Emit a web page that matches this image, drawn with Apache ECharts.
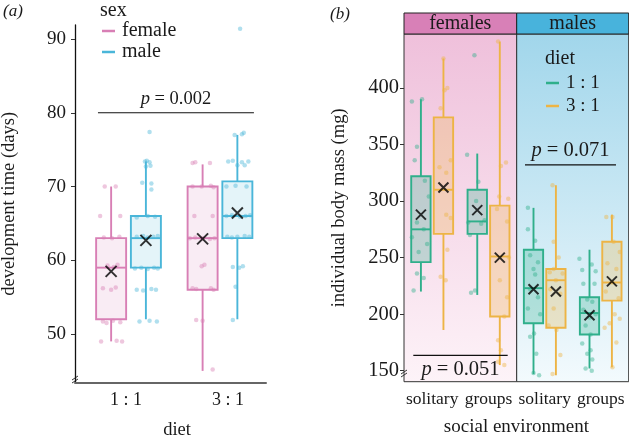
<!DOCTYPE html>
<html><head><meta charset="utf-8">
<script src="https://cdn.jsdelivr.net/npm/echarts@6/dist/echarts.min.js"></script>
<style>html,body{margin:0;padding:0;background:#fff}#c{width:629px;height:440px}</style>
</head><body><div id="c"></div>
<script>
// ---------- Panel (a): development time ----------
const dietCats = ['1 : 1', '3 : 1'];
const sexLabels = ['female', 'male'];
const devTicks = [50, 60, 70, 80, 90];
// [min, Q1, median, Q3, max] per diet
const devFemaleBox = [[49, 52, 59, 63, 70], [45, 56, 63, 70, 73]];
const devMaleBox = [[52, 59, 63, 66, 73.4], [52, 63, 66, 70.7, 77]];
const devFemaleMean = [58.5, 62.9];
const devMaleMean = [62.7, 66.4];
// [dietIndex, jitter, value]
const devFemalePts = [
  [0,-0.07,70],[0,0.05,70],[0,-0.12,66],[0,0.1,66],[0,-0.08,63.1],[0,0.01,63],[0,0.09,63.2],
  [0,-0.04,59.3],[0,0.03,59.1],[0,0.07,59.4],[0,-0.09,56.2],[0,0.0,56],[0,0.05,56.3],
  [0,-0.09,51.7],[0,-0.05,51.5],[0,0.02,51.8],[0,0.1,51.6],[0,-0.11,49],[0,0.06,49.1],[0,0.12,49],
  [1,-0.11,73.2],[1,-0.08,73.3],[1,0.08,73.2],[1,-0.11,70],[1,-0.01,70],[1,0.09,70.1],[1,0.12,69.9],
  [1,-0.09,66],[1,0.11,66],[1,-0.14,63],[1,-0.08,63.1],[1,0.0,63],[1,0.08,62.9],[1,0.13,63],
  [1,-0.01,59.2],[1,0.02,59.4],[1,-0.11,56.2],[1,-0.07,56.1],[1,0.09,56.2],[1,0.12,56],
  [1,-0.07,51.9],[1,0.0,51.8],[1,0.11,45.2]
];
const devMalePts = [
  [0,0.04,77.4],[0,-0.01,73.4],[0,0.01,73.5],[0,0.04,73.3],[0,0.0,72.7],[0,0.05,72.8],
  [0,-0.04,70.5],[0,0.06,70.4],[0,0.06,69.6],[0,-0.1,65.8],[0,0.02,66],[0,0.1,65.9],
  [0,-0.1,63.2],[0,-0.03,63.3],[0,0.02,63.1],[0,0.08,63.2],[0,0.13,63.3],
  [0,-0.12,58.9],[0,-0.05,59],[0,0.02,58.8],[0,0.09,59],[0,0.13,58.9],
  [0,-0.1,56],[0,-0.03,55.9],[0,0.06,56.1],[0,0.11,56],[0,-0.07,51.7],[0,0.04,51.8],[0,0.12,51.7],
  [1,0.03,91.4],[1,-0.03,77],[1,0.05,77.1],[1,0.07,77.3],[1,-0.1,73.4],[1,-0.05,73.5],[1,0.05,73.3],
  [1,0.12,73.4],[1,0.0,72.9],[1,0.08,72.9],[1,-0.12,70],[1,-0.02,70.1],[1,0.1,70],
  [1,-0.12,66],[1,-0.06,66.1],[1,0.03,65.9],[1,0.09,66],[1,0.14,66.1],
  [1,-0.11,63.2],[1,-0.06,63.1],[1,0.0,63.2],[1,0.08,63.3],[1,0.13,63.2],
  [1,-0.05,59.1],[1,0.02,59],[1,0.06,59.2],[1,-0.02,56.4],[1,-0.05,51.9]
];

// ---------- Panel (b): body mass ----------
const envCats = ['solitary', 'groups'];
const facetLabels = ['females', 'males'];
const dietLabels = ['1 : 1', '3 : 1'];
const massTicks = [150, 200, 250, 300, 350, 400];
// [min, Q1, median, Q3, max] per environment
const massFemale11Box = [[220, 246, 275, 322, 390], [217, 271, 282, 310, 342]];
const massFemale31Box = [[186, 271, 310, 374, 426], [155, 198, 251, 296, 441]];
const massMale11Box = [[147, 192, 223, 257, 294], [152, 182, 201, 215, 257]];
const massMale31Box = [[146, 188, 230, 240, 314], [153, 212, 228, 264, 288]];
const massFemale11Mean = [288, 292];
const massFemale31Mean = [312, 250];
const massMale11Mean = [222, 199];
const massMale31Mean = [220, 229];
// [envIndex, jitter, value]
const massFemale11Pts = [
  [0,-0.16,388],[0,0.02,390],[0,-0.07,348],[0,-0.11,336],[0,0.07,318],[0,0.14,304],[0,-0.07,281],
  [0,0.05,275],[0,-0.16,268],[0,0.11,262],[0,-0.04,255],[0,-0.07,236],[0,0.05,232],[0,-0.13,221],
  [1,-0.05,429],[1,-0.18,341],[1,0.02,317],[1,-0.02,300],[1,-0.16,281],[1,0.07,280],[1,0.13,283],
  [1,-0.13,270],[1,-0.11,219],[1,-0.04,221]
];
const massFemale31Pts = [
  [0,0.0,426],[0,0.02,398],[0,0.07,400],[0,-0.05,382],[0,-0.07,330],[0,0.05,325],[0,0.13,336],
  [0,0.05,288],[0,0.13,285],[0,0.07,257],[0,-0.05,233],[0,0.04,230],
  [1,-0.03,441],[1,0.02,331],[1,0.11,334],[1,-0.01,304],[1,0.15,302],[1,-0.05,293],[1,0.13,282],
  [1,0.16,250],[1,0.0,230],[1,0.13,215],[1,0.08,198],[1,-0.03,177],[1,0.02,168],[1,-0.03,158],[1,0.08,155]
];
const massMale11Pts = [
  [0,-0.1,294],[0,-0.1,275],[0,0.03,265],[0,-0.06,252],[0,0.08,246],[0,0.0,240],[0,0.03,235],
  [0,-0.06,222],[0,0.08,215],[0,-0.1,205],[0,0.12,200],[0,0.01,183],[0,-0.06,180],[0,0.05,165],
  [0,0.0,148],[0,0.1,146],
  [1,-0.18,249],[1,-0.13,239],[1,0.04,244],[1,0.11,238],[1,-0.11,227],[1,0.09,227],[1,-0.04,213],
  [1,0.05,211],[1,-0.11,204],[1,0.0,197],[1,0.11,200],[1,-0.07,190],[1,0.02,182],[1,-0.13,174],
  [1,0.02,168],[1,-0.04,165],[1,0.05,160],[1,-0.07,152],[1,0.04,150]
];
const massMale31Pts = [
  [0,-0.06,314],[0,-0.04,264],[0,0.05,250],[0,-0.04,240],[0,-0.11,237],[0,0.12,236],[0,0.0,230],
  [0,-0.1,222],[0,0.08,218],[0,-0.04,205],[0,-0.13,190],[0,0.01,186],[0,0.08,164],[0,-0.06,147],
  [1,-0.1,286],[1,0.01,286],[1,0.03,264],[1,0.14,255],[1,-0.08,245],[1,0.08,240],[1,0.0,228],
  [1,-0.11,220],[1,0.12,214],[1,0.05,200],[1,-0.04,192],[1,0.14,196],[1,-0.13,188],[1,0.08,175],[1,0.01,153]
];

// annotations: p-value text, level, x extent (data units)
const pTexts = ['0.002', '0.071', '0.051'];
const pLevels = [80, 332, 163.6];
const pSpans = [[0.666, 2.371], [0.648, 2.273], [0.665, 2.34]];

// ---------- styling ----------
const FONT = 'Liberation Serif';
const PINK = '#d87fb5', BLUE = '#4ab6d9', GREEN = '#2faf8b', ORANGE = '#edb445';
const TXT = '#1a1a1a';
function rgba(hex, a) {
  const n = parseInt(hex.slice(1), 16);
  return 'rgba(' + (n >> 16 & 255) + ',' + (n >> 8 & 255) + ',' + (n & 255) + ',' + a + ')';
}

function boxSeries(xi, yi, boxes, dodge, hw, color, fillA) {
  return {
    type: 'custom', xAxisIndex: xi, yAxisIndex: yi, silent: true, z: 2,
    data: boxes.map((b, i) => [i + 1 + dodge].concat(b)),
    encode: { x: 0, y: [1, 2, 3, 4, 5] },
    renderItem: function (params, api) {
      const x = api.value(0);
      const lo = api.coord([x, api.value(1)]);
      const q1c = api.coord([x, api.value(2)]);
      const q3c = api.coord([x, api.value(4)]);
      const hi = api.coord([x, api.value(5)]);
      const a = api.coord([x - hw, api.value(4)]);
      const b = api.coord([x + hw, api.value(2)]);
      const ml = api.coord([x - hw, api.value(3)]);
      const mr = api.coord([x + hw, api.value(3)]);
      const st = { stroke: color, lineWidth: 1.9 };
      return {
        type: 'group', children: [
          { type: 'line', shape: { x1: lo[0], y1: lo[1], x2: q1c[0], y2: q1c[1] }, style: st },
          { type: 'line', shape: { x1: q3c[0], y1: q3c[1], x2: hi[0], y2: hi[1] }, style: st },
          { type: 'rect', shape: { x: a[0], y: a[1], width: b[0] - a[0], height: b[1] - a[1] },
            style: { fill: rgba(color, fillA), stroke: color, lineWidth: 1.9 } },
          { type: 'line', shape: { x1: ml[0], y1: ml[1], x2: mr[0], y2: mr[1] }, style: st }
        ]
      };
    }
  };
}
function ptsSeries(xi, yi, pts, dodge, color, size) {
  return {
    type: 'scatter', xAxisIndex: xi, yAxisIndex: yi, silent: true, z: 3,
    symbolSize: size, itemStyle: { color: rgba(color, 0.55) },
    data: pts.map(p => [p[0] + 1 + dodge + p[1], p[2]])
  };
}
function meanSeries(xi, yi, means, dodge, size) {
  return {
    type: 'scatter', xAxisIndex: xi, yAxisIndex: yi, silent: true, z: 4,
    symbol: 'path://M0 0L10 10M10 0L0 10', symbolSize: size,
    itemStyle: { color: 'rgba(0,0,0,0)', borderColor: '#000', borderWidth: 2 },
    data: means.map((m, i) => [i + 1 + dodge, m])
  };
}
function pLine(xi, yi, k, pos, fs) {
  return {
    type: 'line', xAxisIndex: xi, yAxisIndex: yi, silent: true, z: 5,
    symbol: 'none', showSymbol: false, lineStyle: { color: '#111', width: 1.2 },
    data: [[pSpans[k][0], pLevels[k]], [pSpans[k][1], pLevels[k]]],
    markPoint: {
      symbol: 'circle', symbolSize: 0,
      data: [{ coord: [(pSpans[k][0] + pSpans[k][1]) / 2, pLevels[k]] }],
      label: {
        show: true, position: pos, distance: 4,
        formatter: '{i|p} = ' + pTexts[k],
        color: TXT, fontFamily: FONT, fontSize: fs,
        rich: { i: { fontStyle: 'italic', fontFamily: FONT, fontSize: fs, color: TXT } }
      }
    }
  };
}

function ls(size) { return { color: TXT, fontFamily: FONT, fontSize: size }; }

const option = {
  animation: false,
  backgroundColor: '#fff',
  grid: [
    { left: 75, top: 25, width: 191, height: 357.7, outerBoundsMode: 'none' },
    { left: 75, top: 25, width: 204, height: 357.7, outerBoundsMode: 'none' },
    { left: 404, top: 34, width: 112.7, height: 347.7, outerBoundsMode: 'none', show: true, borderColor: '#333', borderWidth: 1,
      backgroundColor: { type: 'linear', x: 0, y: 0, x2: 0, y2: 1,
        colorStops: [{ offset: 0, color: '#efc0db' }, { offset: 1, color: '#fdf3f8' }] } },
    { left: 516.7, top: 34, width: 112, height: 347.7, outerBoundsMode: 'none', show: true, borderColor: '#333', borderWidth: 1,
      backgroundColor: { type: 'linear', x: 0, y: 0, x2: 0, y2: 1,
        colorStops: [{ offset: 0, color: '#a1d6eb' }, { offset: 1, color: '#f3fafd' }] } }
  ],
  xAxis: [
    { gridIndex: 0, type: 'value', min: 0.415, max: 2.503,
      axisLine: { show: true, lineStyle: { color: '#666', width: 2 } },
      axisTick: { show: false }, axisLabel: { show: false }, splitLine: { show: false } },
    { gridIndex: 1, type: 'category', data: dietCats,
      axisLine: { show: false }, axisTick: { show: false },
      axisLabel: Object.assign({ margin: 9 }, ls(18)),
      name: 'diet', nameLocation: 'middle', nameGap: 38, nameTextStyle: ls(18.5) },
    { gridIndex: 2, type: 'value', min: 0.5, max: 2.5,
      axisLine: { show: false }, axisTick: { show: false }, splitLine: { show: false },
      axisLabel: Object.assign({ margin: 9, customValues: [1, 2], formatter: v => envCats[Math.round(v) - 1] }, ls(17.5)) },
    { gridIndex: 3, type: 'value', min: 0.5, max: 2.5,
      axisLine: { show: false }, axisTick: { show: false }, splitLine: { show: false },
      axisLabel: Object.assign({ margin: 9, customValues: [1, 2], formatter: v => envCats[Math.round(v) - 1] }, ls(17.5)) }
  ],
  yAxis: [
    { gridIndex: 0, type: 'value', min: 43.4, max: 91.9,
      axisLine: { show: true, lineStyle: { color: '#111', width: 1.3 } },
      axisTick: { show: true, length: 4, customValues: devTicks, lineStyle: { color: '#333' } },
      axisLabel: Object.assign({ margin: 9, customValues: devTicks }, ls(19)),
      splitLine: { show: false },
      name: 'development time (days)', nameLocation: 'middle', nameGap: 56, nameTextStyle: ls(18.5) },
    { gridIndex: 1, type: 'value', show: false, min: 0, max: 1 },
    { gridIndex: 2, type: 'value', min: 140.3, max: 447.7,
      axisLine: { show: false },
      axisTick: { show: true, length: 4, customValues: massTicks, lineStyle: { color: '#333' } },
      axisLabel: Object.assign({ margin: 5, customValues: massTicks }, ls(20.5)),
      splitLine: { show: false },
      name: 'individual body mass (mg)', nameLocation: 'middle', nameGap: 55, nameTextStyle: ls(18.5) },
    { gridIndex: 3, type: 'value', min: 140.3, max: 447.7,
      axisLine: { show: false }, axisTick: { show: false }, axisLabel: { show: false }, splitLine: { show: false } }
  ],
  series: [
    boxSeries(0, 0, devFemaleBox, -0.19, 0.164, PINK, 0.15),
    boxSeries(0, 0, devMaleBox, 0.19, 0.164, BLUE, 0.15),
    ptsSeries(0, 0, devFemalePts, -0.19, PINK, 4.5),
    ptsSeries(0, 0, devMalePts, 0.19, BLUE, 4.5),
    meanSeries(0, 0, devFemaleMean, -0.19, 11),
    meanSeries(0, 0, devMaleMean, 0.19, 11),
    pLine(0, 0, 0, 'top', 18.5),

    boxSeries(2, 2, massFemale11Box, -0.2, 0.172, GREEN, 0.28),
    boxSeries(2, 2, massFemale31Box, 0.2, 0.172, ORANGE, 0.28),
    ptsSeries(2, 2, massFemale11Pts, -0.2, GREEN, 4.5),
    ptsSeries(2, 2, massFemale31Pts, 0.2, ORANGE, 4.5),
    meanSeries(2, 2, massFemale11Mean, -0.2, 10),
    meanSeries(2, 2, massFemale31Mean, 0.2, 10),
    pLine(2, 2, 2, 'bottom', 20.5),

    boxSeries(3, 3, massMale11Box, -0.2, 0.172, GREEN, 0.28),
    boxSeries(3, 3, massMale31Box, 0.2, 0.172, ORANGE, 0.28),
    ptsSeries(3, 3, massMale11Pts, -0.2, GREEN, 4.5),
    ptsSeries(3, 3, massMale31Pts, 0.2, ORANGE, 4.5),
    meanSeries(3, 3, massMale11Mean, -0.2, 10),
    meanSeries(3, 3, massMale31Mean, 0.2, 10),
    pLine(3, 3, 1, 'top', 20.5)
  ],
  graphic: [
    { type: 'text', x: 3, y: 12, style: { text: '(a)', fill: TXT, font: 'italic 17px "Liberation Serif"', verticalAlign: 'middle' } },
    { type: 'text', x: 330, y: 15, style: { text: '(b)', fill: TXT, font: 'italic 17px "Liberation Serif"', verticalAlign: 'middle' } },
    // legend (a)
    { type: 'text', x: 100, y: 11, style: { text: 'sex', fill: TXT, font: '20px "Liberation Serif"', verticalAlign: 'middle' } },
    { type: 'line', shape: { x1: 102, y1: 31, x2: 115, y2: 31 }, style: { stroke: PINK, lineWidth: 2.5 } },
    { type: 'text', x: 122, y: 31, style: { text: sexLabels[0], fill: TXT, font: '20px "Liberation Serif"', verticalAlign: 'middle' } },
    { type: 'line', shape: { x1: 102, y1: 52, x2: 115, y2: 52 }, style: { stroke: BLUE, lineWidth: 2.5 } },
    { type: 'text', x: 122, y: 52, style: { text: sexLabels[1], fill: TXT, font: '20px "Liberation Serif"', verticalAlign: 'middle' } },
    // facet strips
    { type: 'rect', shape: { x: 404, y: 13, width: 112.7, height: 21 }, style: { fill: '#d880b7', stroke: '#222', lineWidth: 1 } },
    { type: 'text', x: 460.3, y: 24, style: { text: facetLabels[0], fill: TXT, font: '20px "Liberation Serif"', align: 'center', verticalAlign: 'middle' } },
    { type: 'rect', shape: { x: 516.7, y: 13, width: 112, height: 21 }, style: { fill: '#48b3dc', stroke: '#222', lineWidth: 1 } },
    { type: 'text', x: 572.7, y: 24, style: { text: facetLabels[1], fill: TXT, font: '20px "Liberation Serif"', align: 'center', verticalAlign: 'middle' } },
    // legend (b)
    { type: 'text', x: 545, y: 59, style: { text: 'diet', fill: TXT, font: '20px "Liberation Serif"', verticalAlign: 'middle' } },
    { type: 'line', shape: { x1: 546, y1: 83, x2: 559, y2: 83 }, style: { stroke: GREEN, lineWidth: 2.5 } },
    { type: 'text', x: 566, y: 83, style: { text: dietLabels[0], fill: TXT, font: '19px "Liberation Serif"', verticalAlign: 'middle' } },
    { type: 'line', shape: { x1: 546, y1: 106, x2: 559, y2: 106 }, style: { stroke: ORANGE, lineWidth: 2.5 } },
    { type: 'text', x: 566, y: 106, style: { text: dietLabels[1], fill: TXT, font: '19px "Liberation Serif"', verticalAlign: 'middle' } },
    // x-axis title (b)
    { type: 'text', x: 516.4, y: 427, style: { text: 'social environment', fill: TXT, font: '19px "Liberation Serif"', align: 'center', verticalAlign: 'middle' } },
    // axis break marks
    { type: 'polyline', shape: { points: [[72, 380], [78, 376]] }, style: { stroke: '#333', lineWidth: 1 } },
    { type: 'polyline', shape: { points: [[72, 383], [78, 379]] }, style: { stroke: '#333', lineWidth: 1 } },
    { type: 'polyline', shape: { points: [[401, 374], [407, 370]] }, style: { stroke: '#333', lineWidth: 1 } },
    { type: 'polyline', shape: { points: [[401, 377], [407, 373]] }, style: { stroke: '#333', lineWidth: 1 } }
  ]
};
const chart = echarts.init(document.getElementById('c'), null, { renderer: 'canvas' });
chart.setOption(option);
</script></body></html>
